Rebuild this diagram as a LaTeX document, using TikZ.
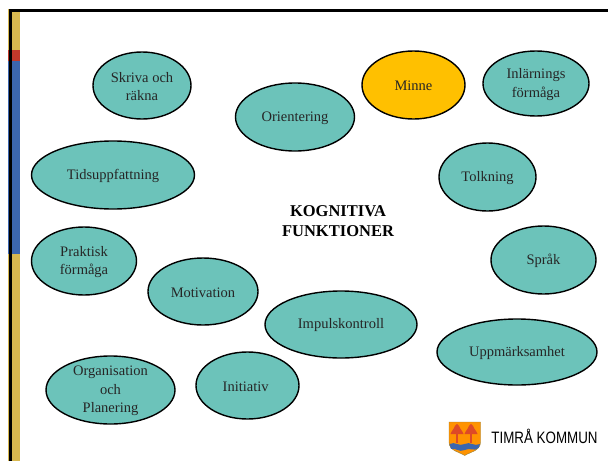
\documentclass[tikz,border=0pt]{standalone}
\usepackage{fontspec}
\setmainfont{Liberation Serif}
\newfontfamily\logofont{Liberation Sans}
\usetikzlibrary{shapes.geometric}
\definecolor{tealfill}{HTML}{6CC3BA}
\definecolor{minnefill}{HTML}{FFC000}
\definecolor{stripgold}{HTML}{D8B850}
\definecolor{stripred}{HTML}{C0392B}
\definecolor{stripblue}{HTML}{3C66AE}
\definecolor{treered}{HTML}{DE4A26}
\tikzset{
  funktion/.style={ellipse,draw=black,line width=1.4pt,inner sep=0pt},
  funktiontext/.style={align=center,inner sep=0pt,yshift=-1pt,text=black!85,font=\fontsize{14.5}{18.3}\selectfont},
}
\newcommand*{\FunctionCells}[1]{% #1 = list of x/y/width/height/color/name/text
  \foreach \x/\y/\wid/\hei/\col/\nam/\txt in {#1} {
    \node [funktion,fill=\col,minimum width=\wid pt,minimum height=\hei pt,
      label={[funktiontext]center:{\txt}}] (\nam) at (\x,\y) {};
    }%
}

\begin{document}
\begin{tikzpicture}[x=1pt,y=-1pt]
    \useasboundingbox (0,0) rectangle (608,461);
    % side strip
    \fill [stripgold] (8,9) rectangle (20,50);
    \fill [stripred] (8,50) rectangle (20,61);
    \fill [stripblue] (8,61) rectangle (20,254);
    \fill [stripgold] (8,254) rectangle (20,461);
    \draw [black,line width=2.6pt] (10.3,461) -- (10.3,10.7) -- (608,10.7);

    \FunctionCells{
        142/85.5/98/67/tealfill/skriva/{Skriva och\\räkna},
        295/117/119/68/tealfill/orientering/Orientering,
        413.5/85/103/68/minnefill/minne/Minne,
        536/83.5/106/65/tealfill/inlarning/{Inlärnings\\förmåga},
        113/175/163/68/tealfill/tid/Tidsuppfattning,
        487.5/177/97/68/tealfill/tolkning/Tolkning,
        84/261/105/68/tealfill/praktisk/{Praktisk\\förmåga},
        543.5/260/105/68/tealfill/sprak/Språk,
        203/291.5/110/67/tealfill/motivation/Motivation,
        341/324.5/152/67/tealfill/impuls/Impulskontroll,
        517/352/160/66/tealfill/uppmark/Uppmärksamhet,
        110.5/390/129/68/tealfill/organisation/{Organisation\\och\\Planering},
        247.5/385.5/103/67/tealfill/initiativ/Initiativ
    }

    \node [align=center,font=\fontsize{16.5}{20}\selectfont\bfseries] (rubrik) at (338,221) {KOGNITIVA\\FUNKTIONER};

    % logo
    \filldraw [draw=stripgold!70!black,fill=orange!85!yellow,line width=.4pt] (449,422) -- (480.5,422) -- (480.5,442)
        .. controls (480.5,451) and (470,452) .. (464.7,455.5) .. controls (459.5,452) and (449,451) .. (449,442) -- cycle;
    \fill [stripblue] (449.5,444) .. controls (455,441) and (459,447) .. (464.7,444) .. controls (470,441) and (474,447) .. (480,444)
        -- (478.5,448) .. controls (474,452) and (470,447) .. (464.7,450) .. controls (459,453) and (455,447) .. (451,449) -- cycle;
    \foreach \x in {457,471} {
        \fill [treered] (\x-1.2,428) rectangle (\x+1.2,443);
        \fill [treered] (\x-6.5,434) .. controls (\x-5,430) and (\x-3,429) .. (\x-3,428)
            .. controls (\x-3,426) and (\x-1,425) .. (\x,424)
            .. controls (\x+1,425) and (\x+3,426) .. (\x+3,428)
            .. controls (\x+3,429) and (\x+5,430) .. (\x+6.5,434) -- cycle;
    }
    \node [inner sep=0pt,xscale=.81,font=\fontsize{16.5}{18}\logofont] (logo) at (544.5,436) {TIMRÅ KOMMUN};
\end{tikzpicture}
\end{document}
